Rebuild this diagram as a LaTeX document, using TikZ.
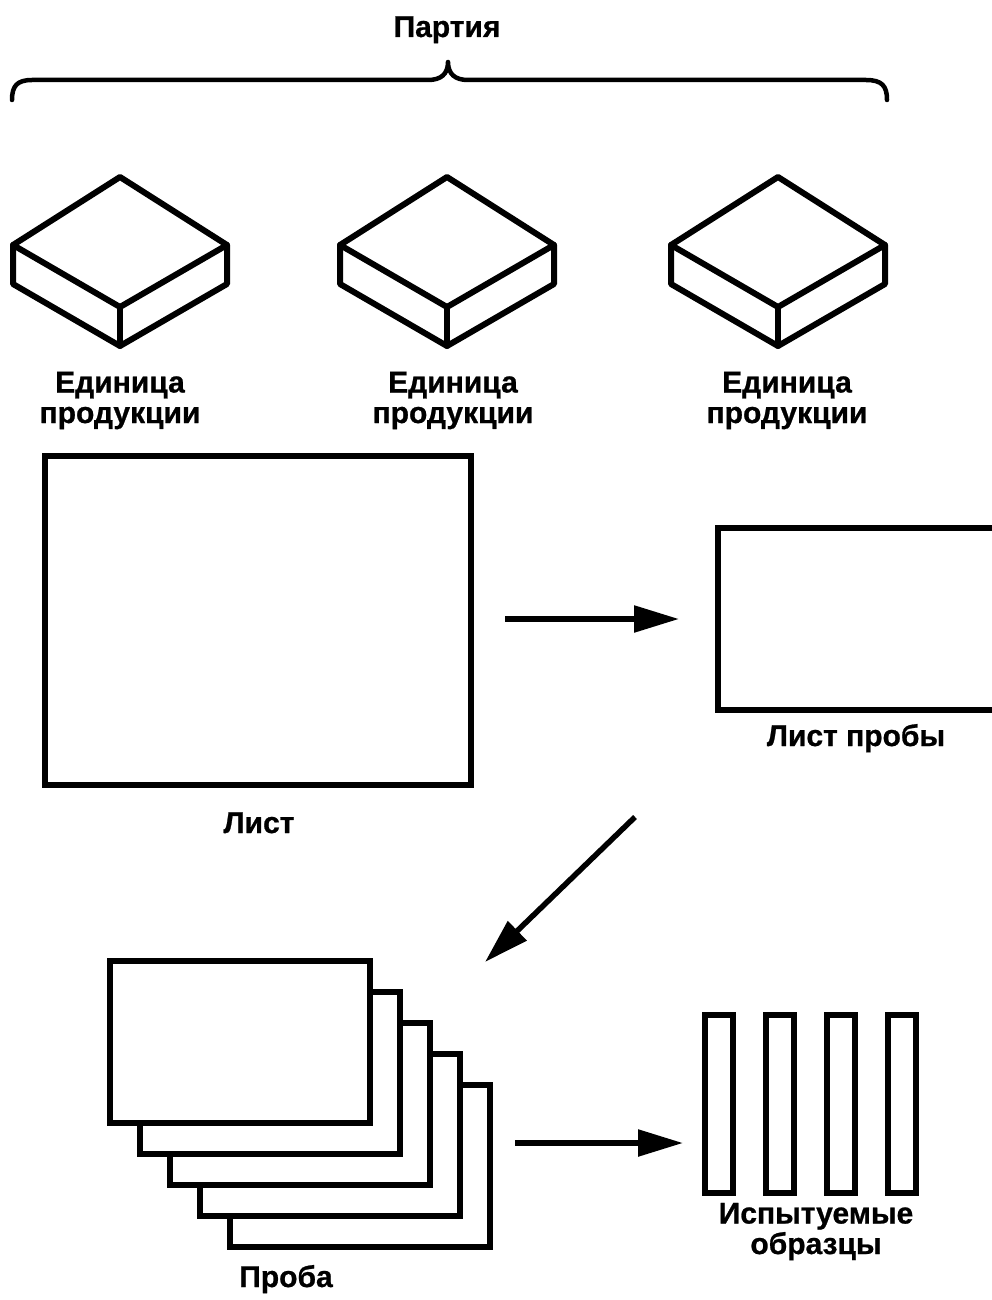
\documentclass[tikz,border=0pt]{standalone}
\usepackage{fontspec}
\setmainfont{Liberation Sans}[BoldFeatures={FakeBold=0.8}]
\usetikzlibrary{arrows.meta}
\begin{document}
\begin{tikzpicture}[x=1pt,y=-1pt,
  lw/.style={line width=6pt, line join=round, line cap=round},
  lbl/.style={font=\fontsize{30}{30.5}\selectfont\bfseries, align=center, inner sep=0pt, anchor=base},
  sheetbox/.style={draw, line width=6pt, fill=white, inner sep=0pt, outer sep=0pt},
  arr/.style={line width=5.5pt, -{Triangle[length=45pt,width=26pt]}},
  cube/.pic={
    \draw[lw] (0,0) -- (107,68) -- (107,107) -- (0,169) -- (-107,107) -- (-107,68) -- cycle;
    \draw[lw] (-107,68) -- (0,130) -- (107,68);
    \draw[lw] (0,130) -- (0,169);
  }]
\clip (0,0) rectangle (992,1300);
\fill[white] (0,0) rectangle (992,1300);

% brace and title
\node[lbl] (party) at (447,37) {Партия};
\draw[line width=4.5pt, line cap=round, line join=round]
  (12,100) .. controls (12,86) and (17,80) .. (32,80) -- (428,80)
  .. controls (441,80) and (448,74) .. (448,62)
  .. controls (448,74) and (455,80) .. (468,80) -- (866,80)
  .. controls (882,80) and (887,86) .. (887,100);

% units
\pic (c1) at (120,177) {cube};
\pic (c2) at (447,177) {cube};
\pic (c3) at (778,177) {cube};
\node[lbl] (u1) at (120,423) {Единица\\продукции};
\node[lbl] (u2) at (453,423) {Единица\\продукции};
\node[lbl] (u3) at (787,423) {Единица\\продукции};

% sheet
\node[sheetbox, minimum width=426pt, minimum height=329pt] (list) at (257.5,620) {};
\node[lbl] (listlbl) at (259,833) {Лист};

% sample sheet (cut by the right edge)
\node[sheetbox, minimum width=382pt, minimum height=182pt] (probe) at (909,618.5) {};
\node[lbl] (probelbl) at (856,746) {Лист пробы};

% arrows
\coordinate (a1s) at (505,619);
\coordinate (a1e) at (679,619);
\draw[arr] (a1s) -- (a1e);
\coordinate (a2s) at (635,817);
\coordinate (a2e) at (485,962);
\draw[arr] (a2s) -- (a2e);
\coordinate (a3s) at (515,1143);
\coordinate (a3e) at (683,1143);
\draw[arr] (a3s) -- (a3e);

% stack of samples
\foreach \i in {4,3,2,1,0} {
  \node[sheetbox, minimum width=260pt, minimum height=162pt] (s\i) at ({239.5+30*\i},{1041.5+31*\i}) {};
}
\node[lbl] (stacklbl) at (286,1287) {Проба};

% test specimens
\foreach \i in {0,1,2,3} {
  \node[sheetbox, minimum width=28pt, minimum height=178pt] (t\i) at ({718.5+61.3*\i},1103.5) {};
}
\node[lbl] (testlbl) at (816,1254) {Испытуемые\\образцы};
\end{tikzpicture}
\end{document}
